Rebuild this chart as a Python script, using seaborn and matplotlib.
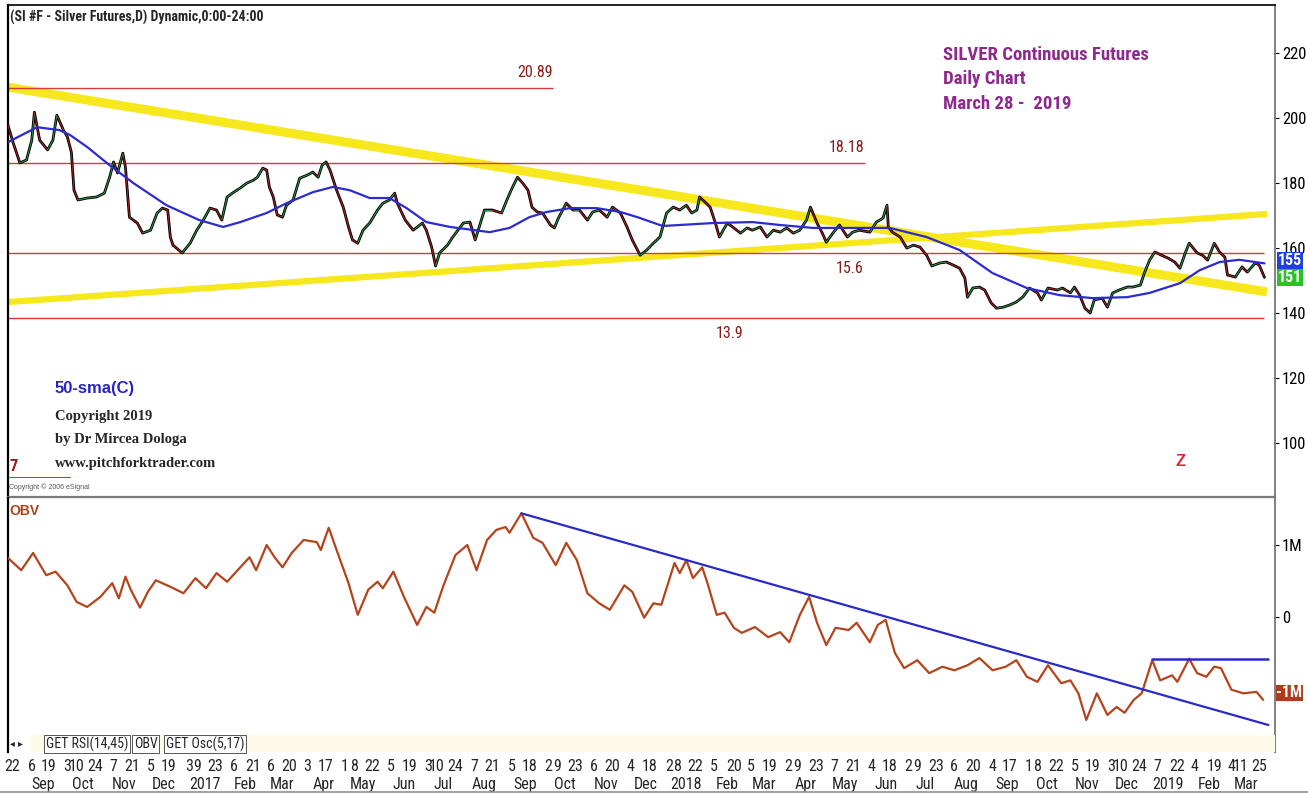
import numpy as np
import pandas as pd
import matplotlib
matplotlib.use("Agg")
import matplotlib.pyplot as plt
import matplotlib.dates as mdates
import matplotlib.transforms as mtransforms
from matplotlib import font_manager
from matplotlib.collections import LineCollection
from matplotlib.patches import Rectangle
import seaborn as sns

# ---- data (days counted from START) ----
START = "2016-08-19"

price_day = [0, 4, 9, 14, 18, 20, 24, 30, 34, 37,
             42, 45, 48, 50, 53, 60, 67, 73, 77, 80,
             83, 87, 89, 91, 92, 98, 102, 108, 113, 117,
             121, 123, 125, 132, 138, 143, 148, 153, 158, 162,
             166, 170, 176, 181, 186, 189, 193, 196, 198, 201,
             204, 208, 211, 216, 221, 227, 231, 235, 238, 241,
             244, 249, 254, 258, 261, 265, 269, 274, 280, 284,
             289, 293, 295, 301, 307, 314, 317, 321, 324, 327,
             333, 337, 345, 350, 354, 358, 361, 367, 374, 378,
             382, 386, 390, 394, 397, 401, 405, 411, 414, 417,
             423, 428, 433, 439, 443, 448, 454, 458, 464, 469,
             473, 479, 484, 489, 494, 499, 504, 509, 514, 518,
             522, 524, 528, 532, 536, 539, 545, 549, 555, 560,
             564, 570, 575, 580, 585, 590, 595, 600, 605, 608,
             613, 617, 620, 625, 630, 636, 640, 645, 653, 658,
             663, 666, 667, 670, 676, 681, 686, 691, 696, 700,
             706, 711, 716, 721, 725, 727, 731, 736, 740, 745,
             749, 754, 759, 764, 769, 774, 780, 783, 788, 795,
             799, 805, 808, 812, 816, 820, 823, 829, 833, 837,
             842, 848, 852, 858, 861, 865, 869, 874, 879, 884,
             888, 892, 895, 901, 905, 909, 914, 918, 922, 924,
             930, 935, 939, 945, 948, 952]
price_close = [197.8, 192.3, 186.2, 187.1, 193.2, 201.8, 193.2, 190.2, 193.2, 200.9,
               196.3, 194.2, 189.5, 177.8, 174.8, 175.4, 175.7, 176.9, 181.8, 186.5,
               183.1, 189.2, 184.9, 174.8, 169.5, 167.7, 164.6, 165.5, 170.8, 172.3,
               171.7, 163.4, 160.9, 158.5, 161.5, 165.5, 168.6, 172.3, 171.7, 168.6,
               175.7, 176.9, 178.5, 180.0, 180.9, 181.8, 184.6, 184.0, 178.8, 175.7,
               170.2, 169.5, 173.2, 174.8, 181.5, 182.5, 183.4, 181.8, 185.5, 186.5,
               184.0, 177.8, 172.6, 166.5, 162.5, 161.5, 165.5, 167.7, 171.7, 173.8,
               174.8, 176.9, 173.8, 168.6, 165.5, 167.7, 165.5, 160.3, 154.5, 158.5,
               160.9, 163.4, 167.7, 168.0, 162.5, 167.7, 171.7, 171.7, 170.8, 174.8,
               178.5, 181.8, 180.0, 177.8, 172.6, 171.1, 170.8, 167.1, 166.2, 169.2,
               173.8, 171.7, 171.7, 168.6, 171.1, 171.7, 169.5, 172.6, 170.8, 166.5,
               162.5, 157.8, 159.4, 161.5, 163.4, 170.8, 172.6, 171.7, 173.2, 170.8,
               171.7, 175.7, 174.2, 172.6, 167.7, 163.4, 167.7, 166.5, 164.6, 166.2,
               165.5, 166.5, 163.4, 165.5, 164.9, 166.2, 164.6, 165.5, 168.6, 172.6,
               167.7, 164.6, 161.8, 164.6, 167.1, 163.4, 164.9, 165.5, 164.9, 168.0,
               169.2, 173.2, 166.5, 164.9, 163.4, 160.0, 160.9, 160.3, 157.8, 154.5,
               155.4, 155.7, 154.8, 153.8, 150.8, 144.9, 147.7, 148.0, 147.1, 143.1,
               141.5, 141.8, 142.5, 143.4, 145.0, 147.7, 146.2, 144.0, 147.7, 147.1,
               147.7, 146.2, 148.0, 145.5, 141.5, 140.0, 144.0, 144.6, 141.8, 146.2,
               147.1, 148.0, 148.0, 148.6, 152.3, 156.3, 158.8, 157.8, 156.9, 155.7,
               153.8, 158.5, 161.5, 158.5, 157.8, 156.3, 161.5, 158.8, 157.2, 151.7,
               151.1, 154.2, 152.6, 155.4, 154.8, 151.0]

sma_day = [0, 22, 39, 47, 60, 77, 95, 120, 145, 163,
           176, 196, 211, 231, 246, 259, 274, 289, 302, 317,
           335, 365, 380, 395, 408, 426, 446, 464, 477, 496,
           509, 534, 564, 585, 610, 636, 658, 668, 696, 721,
           746, 772, 797, 822, 848, 865, 888, 903, 918, 933, 952]
sma_value = [192.6, 197.2, 196.3, 194.8, 191.1, 185.5, 180.0, 173.2, 168.6, 166.5,
             168.0, 170.8, 173.8, 177.2, 178.8, 177.8, 175.4, 175.4, 172.3, 168.0,
             166.5, 164.9, 166.2, 169.5, 171.1, 172.3, 172.3, 171.1, 169.5, 166.8,
             167.1, 167.7, 168.0, 167.1, 166.2, 166.2, 166.2, 166.2, 163.4, 159.4,
             152.3, 147.7, 145.5, 144.6, 144.9, 146.2, 149.2, 153.2, 155.7, 156.4, 155.3]

obv_day = [0, 10, 19, 29, 36, 45, 52, 60, 70, 79,
           84, 89, 93, 100, 106, 112, 123, 133, 142, 150,
           158, 166, 173, 183, 188, 196, 202, 208, 215, 224,
           234, 237, 243, 249, 258, 265, 273, 280, 284, 292,
           300, 310, 317, 323, 330, 339, 348, 355, 363, 370,
           377, 380, 389, 398, 405, 415, 423, 431, 439, 448,
           456, 467, 473, 482, 489, 495, 505, 509, 514, 519,
           526, 530, 537, 543, 550, 556, 566, 576, 585, 592,
           600, 607, 613, 620, 627, 637, 643, 653, 659, 665,
           672, 679, 689, 698, 708, 717, 727, 736, 746, 756,
           764, 772, 780, 788, 798, 805, 811, 817, 825, 833,
           840, 846, 853, 859, 867, 873, 882, 886, 895, 901,
           908, 914, 919, 927, 936, 946, 951]
obv_value = [0.82, 0.65, 0.89, 0.58, 0.63, 0.44, 0.21, 0.14, 0.28, 0.47,
             0.26, 0.56, 0.38, 0.13, 0.35, 0.51, 0.42, 0.33, 0.54, 0.40,
             0.61, 0.49, 0.63, 0.83, 0.65, 1.00, 0.83, 0.69, 0.89, 1.07,
             1.04, 0.93, 1.24, 0.93, 0.47, 0.03, 0.38, 0.49, 0.40, 0.63,
             0.28, -0.11, 0.14, 0.06, 0.44, 0.86, 1.00, 0.65, 1.07, 1.21,
             1.25, 1.17, 1.44, 1.10, 1.03, 0.72, 1.03, 0.79, 0.33, 0.19,
             0.10, 0.44, 0.35, -0.01, 0.19, 0.17, 0.75, 0.61, 0.79, 0.54,
             0.69, 0.47, 0.03, 0.06, -0.15, -0.22, -0.14, -0.28, -0.21, -0.35,
             0.03, 0.28, -0.08, -0.39, -0.15, -0.18, -0.08, -0.35, -0.11, -0.04,
             -0.50, -0.71, -0.60, -0.78, -0.69, -0.74, -0.67, -0.57, -0.74, -0.69,
             -0.60, -0.83, -0.90, -0.67, -0.92, -0.88, -1.06, -1.43, -1.06, -1.36,
             -1.25, -1.33, -1.15, -1.06, -0.60, -0.88, -0.81, -0.90, -0.58, -0.78,
             -0.83, -0.69, -0.71, -1.01, -1.06, -1.04, -1.15]

# drawn lines on the price panel
fan_day = [0, 954]
fan_upper = [209.5, 146.5]
fan_lower = [143.4, 170.5]
level_value = [209.2, 186.2, 158.5, 138.5]
level_label = ["20.89", "18.18", "15.6", "13.9"]
level_end_day = [413, 649, 952, 952]

# drawn lines on the OBV panel (millions)
obv_trend_day = [389, 955]
obv_trend = [1.44, -1.50]
obv_flat_day = [867, 955]
obv_flat = [-0.58, -0.58]

price_ticks = [100, 120, 140, 160, 180, 200, 220]
obv_ticks = [1, 0]
obv_tick_labels = ["1M", "0"]

day_label_dates = [
    "2016-08-22", "2016-09-06", "2016-09-19", "2016-10-03", "2016-10-10", "2016-10-24",
    "2016-11-07", "2016-11-21", "2016-12-05", "2016-12-19", "2017-01-03", "2017-01-09",
    "2017-01-23", "2017-02-06", "2017-02-21", "2017-03-06", "2017-03-20", "2017-04-03",
    "2017-04-17", "2017-05-01", "2017-05-08", "2017-05-22", "2017-06-05", "2017-06-19",
    "2017-07-03", "2017-07-10", "2017-07-24", "2017-08-07", "2017-08-21", "2017-09-05",
    "2017-09-18", "2017-10-02", "2017-10-09", "2017-10-23", "2017-11-06", "2017-11-20",
    "2017-12-04", "2017-12-18", "2018-01-02", "2018-01-08", "2018-01-22", "2018-02-05",
    "2018-02-20", "2018-03-05", "2018-03-19", "2018-04-02", "2018-04-09", "2018-04-23",
    "2018-05-07", "2018-05-21", "2018-06-04", "2018-06-18", "2018-07-02", "2018-07-09",
    "2018-07-23", "2018-08-06", "2018-08-20", "2018-09-04", "2018-09-17", "2018-10-01",
    "2018-10-08", "2018-10-22", "2018-11-05", "2018-11-19", "2018-12-03", "2018-12-10",
    "2018-12-24", "2019-01-07", "2019-01-22", "2019-02-04", "2019-02-19", "2019-03-04",
    "2019-03-11", "2019-03-25"]
month_start = pd.date_range("2016-09-01", "2019-03-01", freq="MS")
month_names = [("%d" % m.year) if m.month == 1 else m.strftime("%b") for m in month_start]

# ---- styling ----
sns.set_style("white")
names = {f.name for f in font_manager.fontManager.ttflist}
NARROW = next((f for f in ["Liberation Sans Narrow", "Roboto Condensed", "DejaVu Sans Condensed"]
               if f in names), "Liberation Sans")
plt.rcParams["font.family"] = [NARROW, "DejaVu Sans"]
SANS = ["Liberation Sans", "DejaVu Sans"]
SERIF = ["Liberation Serif", "DejaVu Serif"]

W, H = 1308, 793
fig = plt.figure(figsize=(W / 100, H / 100), dpi=100)
fig.patch.set_facecolor("white")


def fx(px):
    return px / W


def fy(py):
    return 1 - py / H


ax1 = fig.add_axes([fx(8), fy(497), fx(1275) - fx(8), fy(5) - fy(497)])
ax2 = fig.add_axes([fx(8), fy(752), fx(1275) - fx(8), fy(498) - fy(752)])

t0 = pd.Timestamp(START)
price = pd.DataFrame({"date": t0 + pd.to_timedelta(price_day, unit="D"), "close": price_close})
sma = pd.DataFrame({"date": t0 + pd.to_timedelta(sma_day, unit="D"), "sma": sma_value})
obv = pd.DataFrame({"date": t0 + pd.to_timedelta(obv_day, unit="D"), "obv": obv_value})


def dn(days):
    return mdates.date2num(t0 + pd.to_timedelta(np.asarray(days), unit="D"))


# ---- price panel ----
YELLOW = "#f6e81c"
ax1.plot(dn(fan_day), fan_upper, color=YELLOW, lw=6.5, solid_capstyle="butt", zorder=1)
ax1.plot(dn(fan_day), fan_lower, color=YELLOW, lw=4.5, solid_capstyle="butt", zorder=1)
for val, end in zip(level_value, level_end_day):
    ax1.hlines(val, dn(0), dn(end), color="#d83a3a", lw=1.0, zorder=2)

sns.lineplot(data=price, x="date", y="close", ax=ax1, color="black", lw=2.0,
             estimator=None, sort=False, zorder=3)
xn = mdates.date2num(price["date"])
pts = np.column_stack([xn, price["close"]])
segs = np.stack([pts[:-1], pts[1:]], axis=1)
up = np.diff(price["close"].to_numpy()) >= 0
ax1.add_collection(LineCollection(segs, colors=np.where(up, "#2f9a45", "#b52020"),
                                  linewidths=0.7, zorder=4))
sns.lineplot(data=sma, x="date", y="sma", ax=ax1, color="#2b2bd0", lw=1.6,
             estimator=None, sort=False, zorder=5)

label_pos = [(413, 6, "right", "bottom"), (649, 6, "right", "bottom"),
             (638, -6, "center", "top"), (547, -6, "center", "top")]
for val, lab, (d, dy, ha, va) in zip(level_value, level_label, label_pos):
    ax1.annotate(lab, xy=(dn(d), val), xytext=(0, dy), textcoords="offset points",
                 ha=ha, va=va, color="#8b1a1a", fontsize=11.5)

ax1.set_ylim(83.4, 234.8)
ax1.yaxis.tick_right()
ax1.set_yticks(price_ticks)
ax1.set_yticklabels([str(t) for t in price_ticks])
ax1.tick_params(axis="y", length=3, width=0.8, pad=2, labelsize=12, colors="black")
ax1.tick_params(axis="x", bottom=False, labelbottom=False)
ax1.set_xlabel("")
ax1.set_ylabel("")

tr1 = mtransforms.blended_transform_factory(ax1.transAxes, ax1.transData)
ax1.annotate(f"{int(sma_value[-1])}", xy=(1, sma_value[-1]), xycoords=tr1, xytext=(2, 2),
             textcoords="offset points", ha="left", va="center", color="white",
             fontsize=11.5, fontweight="bold",
             bbox=dict(boxstyle="square,pad=0.05", fc="#1f3fe0", ec="none"))
ax1.annotate(f"{int(price_close[-1])}", xy=(1, price_close[-1]), xycoords=tr1, xytext=(2, 0),
             textcoords="offset points", ha="left", va="center", color="white",
             fontsize=11.5, fontweight="bold",
             bbox=dict(boxstyle="square,pad=0.05", fc="#29c229", ec="none"))

# ---- OBV panel ----
sns.lineplot(data=obv, x="date", y="obv", ax=ax2, color="#b5441c", lw=1.6,
             estimator=None, sort=False, zorder=3)
ax2.plot(dn(obv_trend_day), obv_trend, color="#2a2ac8", lw=1.6, zorder=4)
ax2.plot(dn(obv_flat_day), obv_flat, color="#2a2ac8", lw=1.8, zorder=4)
ax2.set_ylim(-1.875, 1.653)
ax2.yaxis.tick_right()
ax2.set_yticks(obv_ticks)
ax2.set_yticklabels(obv_tick_labels)
ax2.tick_params(axis="y", length=3, width=0.8, pad=2, labelsize=12, colors="black")
ax2.set_xlabel("")
ax2.set_ylabel("")
tr2 = mtransforms.blended_transform_factory(ax2.transAxes, ax2.transData)
ax2.annotate(f"{round(obv_value[-1]):.0f}M", xy=(1, obv_value[-1]), xycoords=tr2, xytext=(1, 5),
             textcoords="offset points", ha="left", va="center", color="white",
             fontsize=11.5, fontweight="bold",
             bbox=dict(boxstyle="square,pad=0.05", fc="#b03a1a", ec="none"))

# ---- shared x axis ----
xlim = (dn(0), dn(960))
for ax in (ax1, ax2):
    ax.set_xlim(*xlim)
    ax.set_facecolor("none")
    for side in ("left", "top", "right", "bottom"):
        ax.spines[side].set_visible(True)
    ax.spines["left"].set_color("black")
    ax.spines["left"].set_linewidth(1.6)
    ax.spines["right"].set_color("#808080")
    ax.spines["right"].set_linewidth(1.4)
ax1.spines["top"].set_color("black")
ax1.spines["top"].set_linewidth(1.2)
ax1.spines["bottom"].set_color("#7a7a7a")
ax1.spines["bottom"].set_linewidth(1.6)
ax2.spines["top"].set_visible(False)
ax2.spines["bottom"].set_visible(False)

day_dates = pd.to_datetime(day_label_dates)
ax2.set_xticks(mdates.date2num(day_dates))
ax2.set_xticklabels([str(d.day) for d in day_dates])
ax2.set_xticks(mdates.date2num(month_start + pd.Timedelta(days=14)), minor=True)
ax2.set_xticklabels(month_names, minor=True)
ax2.tick_params(axis="x", which="major", length=0, pad=5, labelsize=11.5)
ax2.tick_params(axis="x", which="minor", length=0, pad=18, labelsize=11.5)

# ---- tab strip under the OBV pane ----
fig.patches.append(Rectangle((fx(30), fy(752)), fx(1275) - fx(30), fy(735) - fy(752),
                             transform=fig.transFigure, fc="#fdfbe8", ec="none", zorder=0))
fig.text(fx(10), fy(744), "\u25c2 \u25b8", fontsize=7, va="center", family=["DejaVu Sans"])
tab_x = [46, 134, 166]
for x, lab in zip(tab_x, ["GET RSI(14,45)", "OBV", "GET Osc(5,17)"]):
    fig.text(fx(x), fy(744), lab, fontsize=10, va="center", ha="left",
             bbox=dict(boxstyle="square,pad=0.12", fc="white", ec="#555555", lw=0.7))
fig.add_artist(plt.Line2D([fx(0), fx(1308)], [fy(792), fy(792)], color="#909090", lw=1.2))

# ---- annotations ----
fig.text(fx(10), fy(17), "(SI #F - Silver Futures,D) Dynamic,0:00-24:00",
         fontsize=10, va="center", fontweight="bold")
for i, line in enumerate(["SILVER Continuous Futures", "Daily Chart", "March 28 -  2019"]):
    fig.text(fx(943), fy(55 + 24.5 * i), line, fontsize=13.5, va="center",
             fontweight="bold", color="#8e2a8e")
fig.text(fx(55), fy(388), "50-sma(C)", fontsize=12, va="center", fontweight="bold",
         color="#2525c4", family=SANS)
for i, line in enumerate(["Copyright 2019", "by Dr Mircea Dologa", "www.pitchforktrader.com"]):
    fig.text(fx(55), fy(417 + 23 * i), line, fontsize=10.5, va="center",
             fontweight="bold", family=SERIF)
fig.text(fx(9), fy(467), "7", fontsize=12, va="center", fontweight="bold", color="#9b1c1c")
fig.add_artist(plt.Line2D([fx(9), fx(70)], [fy(477), fy(477)], color="#c04040", lw=0.8))
fig.text(fx(9), fy(487), "Copyright \u00a9 2006 eSignal", fontsize=5, va="center",
         color="#555555", family=SANS)
fig.text(fx(1181), fy(462), "Z", fontsize=12, va="center", ha="center",
         fontweight="bold", color="#d42a2a", family=SANS)
fig.text(fx(9), fy(511), "OBV", fontsize=10, va="center", fontweight="bold",
         color="#b0401c", family=SANS)

fig.savefig("out.png", dpi=100, facecolor="white")
